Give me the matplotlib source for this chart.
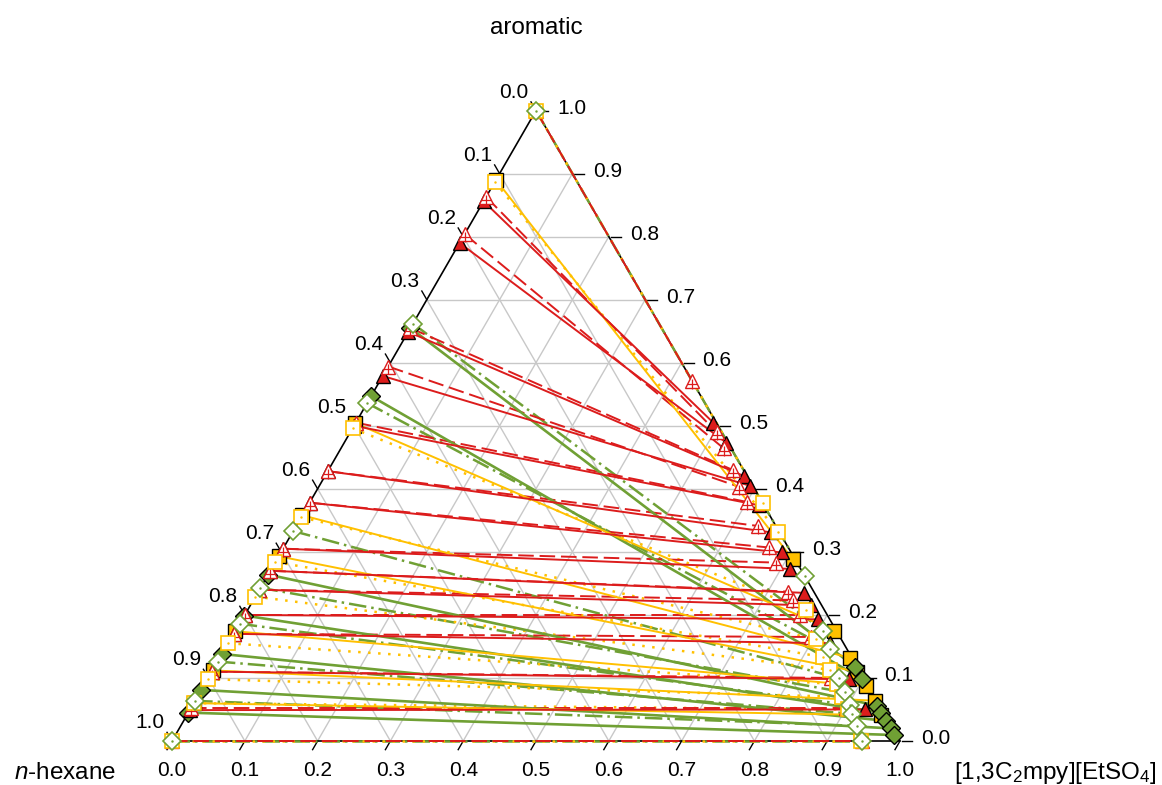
import numpy as np
import matplotlib.pyplot as plt

plt.rcParams['font.family'] = ['Liberation Sans', 'DejaVu Sans']
plt.rcParams['mathtext.fontset'] = 'custom'
plt.rcParams['mathtext.rm'] = 'Liberation Sans'
plt.rcParams['mathtext.it'] = 'Liberation Sans:italic'

# mole fractions: raffinate phase on the hexane/aromatic edge (x_IL = 0),
# extract phase near the aromatic/IL edge, given by x_aromatic and x_hexane
red_exp_raf_a = [0.856, 0.790, 0.649, 0.579, 0.500, 0.428, 0.378, 0.305, 0.270, 0.240, 0.200, 0.170, 0.110, 0.049]
red_exp_ext_a = [0.505, 0.473, 0.420, 0.405, 0.374, 0.331, 0.299, 0.273, 0.235, 0.215, 0.193, 0.155, 0.098, 0.050]
red_exp_ext_h = [0.004, 0.002, 0.004, 0.004, 0.007, 0.012, 0.013, 0.015, 0.015, 0.015, 0.016, 0.018, 0.021, 0.023]

red_calc_raf_a = [1.0, 0.863, 0.804, 0.655, 0.594, 0.505, 0.428, 0.378, 0.305, 0.270, 0.240, 0.200, 0.170, 0.110, 0.052, 0.0]
red_calc_ext_a = [0.571, 0.490, 0.464, 0.430, 0.403, 0.379, 0.341, 0.307, 0.283, 0.237, 0.223, 0.200, 0.165, 0.100, 0.052, 0.0]
red_calc_ext_h = [0.0, 0.007, 0.010, 0.015, 0.019, 0.020, 0.024, 0.027, 0.029, 0.035, 0.035, 0.037, 0.040, 0.045, 0.048, 0.052]

yel_exp_raf_a = [0.890, 0.504, 0.358, 0.293, 0.174, 0.112, 0.060]
yel_exp_ext_a = [0.288, 0.175, 0.132, 0.110, 0.087, 0.064, 0.041]
yel_exp_ext_h = [0.003, 0.003, 0.003, 0.004, 0.003, 0.003, 0.005]

yel_calc_raf_a = [1.0, 0.887, 0.496, 0.355, 0.284, 0.229, 0.155, 0.098, 0.060, 0.0]
yel_calc_ext_a = [0.377, 0.332, 0.207, 0.161, 0.133, 0.113, 0.090, 0.070, 0.050, 0.0]
yel_calc_ext_h = [0.0, 0.002, 0.026, 0.035, 0.039, 0.040, 0.042, 0.044, 0.046, 0.054]

grn_exp_raf_a = [0.655, 0.547, 0.264, 0.199, 0.138, 0.081, 0.045]
grn_exp_ext_a = [0.118, 0.099, 0.056, 0.045, 0.032, 0.020, 0.0095]
grn_exp_ext_h = [0.003, 0.003, 0.003, 0.003, 0.003, 0.003, 0.003]

grn_calc_raf_a = [1.0, 0.662, 0.536, 0.333, 0.243, 0.186, 0.126, 0.0636, 0.0]
grn_calc_ext_a = [0.261, 0.175, 0.146, 0.0995, 0.077, 0.057, 0.043, 0.024, 0.0]
grn_calc_ext_h = [0.0, 0.018, 0.023, 0.034, 0.037, 0.040, 0.044, 0.047, 0.052]

ticks = np.round(np.arange(0, 1.01, 0.1), 1)

RED = '#dc1c1c'
YEL = '#ffc000'
GRN = '#70a034'
S3 = np.sqrt(3) / 2


def xy(h, a):
    # hexane at (0,0), IL at (1,0), aromatic on top
    h = np.asarray(h, float)
    a = np.asarray(a, float)
    il = 1 - h - a
    return il + a / 2, a * S3


fig = plt.figure(figsize=(11.62, 7.85), dpi=100)
ax = fig.add_axes([0, 0, 1, 1])
ax.set_xlim(-172 / 728, 990 / 728)
ax.set_ylim(-44 / 728, 741 / 728)
ax.axis('off')

# grid
for t in ticks[1:-1]:
    ax.plot(*xy([1 - t, 0], [t, t]), color='#c8c8c8', lw=1.0, zorder=1)
    ax.plot(*xy([t, t], [1 - t, 0]), color='#c8c8c8', lw=1.0, zorder=1)
    ax.plot(*xy([1 - t, 0], [0, 1 - t]), color='#c8c8c8', lw=1.0, zorder=1)

# triangle
ax.plot(*xy([1, 0, 0, 1], [0, 0, 1, 0]), color='black', lw=1.2, zorder=2)

tl = 10 / 728
for t in ticks:
    # bottom axis: IL fraction
    x0, y0 = xy(1 - t, 0)
    ax.plot([x0, x0 - 0.5 * tl], [y0, y0 - S3 * tl], color='black', lw=1.0)
    ax.text(x0, y0 - 29 / 728, f'{t:.1f}', ha='center', va='center', fontsize=15)
    # left axis: hexane fraction
    x0, y0 = xy(t, 1 - t)
    ax.plot([x0, x0 - 0.5 * tl], [y0, y0 + S3 * tl], color='black', lw=1.0)
    ax.text(x0 - 22 / 728, y0 + 18 / 728, f'{t:.1f}', ha='center', va='center', fontsize=15)
    # right axis: aromatic fraction
    x0, y0 = xy(0, t)
    ax.plot([x0 + 2 / 728, x0 + 12 / 728], [y0, y0], color='black', lw=1.0)
    ax.text(x0 + 21 / 728, y0 + 2 / 728, f'{t:.1f}', ha='left', va='center', fontsize=15)

ax.text(0.5, (741 - 28) / 728, 'aromatic', ha='center', va='center', fontsize=17.5)
ax.text(-107 / 728, -32 / 728, '$n$-hexane', ha='center', va='center', fontsize=17.5)
ax.text(883 / 728, -32 / 728, '[1,3C$_2$mpy][EtSO$_4$]', ha='center', va='center', fontsize=17.5)


def tie_lines(raf_a, ext_a, ext_h, color, ls, lw):
    rx, ry = xy(1 - np.asarray(raf_a), raf_a)
    ex, ey = xy(ext_h, ext_a)
    for i in range(len(rx)):
        ax.plot([rx[i], ex[i]], [ry[i], ey[i]], color=color, ls=ls, lw=lw,
                zorder=3, solid_capstyle='butt', dash_capstyle='butt')
    return np.r_[rx, ex], np.r_[ry, ey]


gx, gy = tie_lines(grn_calc_raf_a, grn_calc_ext_a, grn_calc_ext_h, GRN, (0, (7, 2, 1, 2)), 1.8)
yx, yy = tie_lines(yel_calc_raf_a, yel_calc_ext_a, yel_calc_ext_h, YEL, (0, (1, 3)), 1.8)
rx, ry = tie_lines(red_calc_raf_a, red_calc_ext_a, red_calc_ext_h, RED, (0, (8, 3)), 1.4)
Gx, Gy = tie_lines(grn_exp_raf_a, grn_exp_ext_a, grn_exp_ext_h, GRN, '-', 1.9)
Yx, Yy = tie_lines(yel_exp_raf_a, yel_exp_ext_a, yel_exp_ext_h, YEL, '-', 1.4)
Rx, Ry = tie_lines(red_exp_raf_a, red_exp_ext_a, red_exp_ext_h, RED, '-', 1.4)

# experimental points
ax.plot(Yx, Yy, 's', ms=10, mfc=YEL, mec='black', mew=1.0, ls='none', zorder=5)
ax.plot(Gx, Gy, 'D', ms=9.5, mfc=GRN, mec='black', mew=1.0, ls='none', zorder=5)
ax.plot(Rx, Ry, '^', ms=10.5, mfc=RED, mec='black', mew=1.0, ls='none', zorder=5)

# calculated points
ax.plot(rx, ry, '^', ms=10.5, mfc='white', mec=RED, mew=1.0, ls='none', zorder=6)
ax.plot(rx, ry - 0.004, '+', ms=6.5, mec=RED, mew=0.9, ls='none', zorder=6)
ax.plot(yx, yy, 's', ms=10, mfc='white', mec=YEL, mew=1.2, ls='none', zorder=6)
ax.plot(yx, yy, '.', ms=1.5, color=YEL, ls='none', zorder=6)
ax.plot(gx, gy, 'D', ms=9.5, mfc='white', mec=GRN, mew=1.2, ls='none', zorder=7)
ax.plot(gx, gy, '.', ms=1.5, color=GRN, ls='none', zorder=7)

fig.savefig('out.png', dpi=100)
